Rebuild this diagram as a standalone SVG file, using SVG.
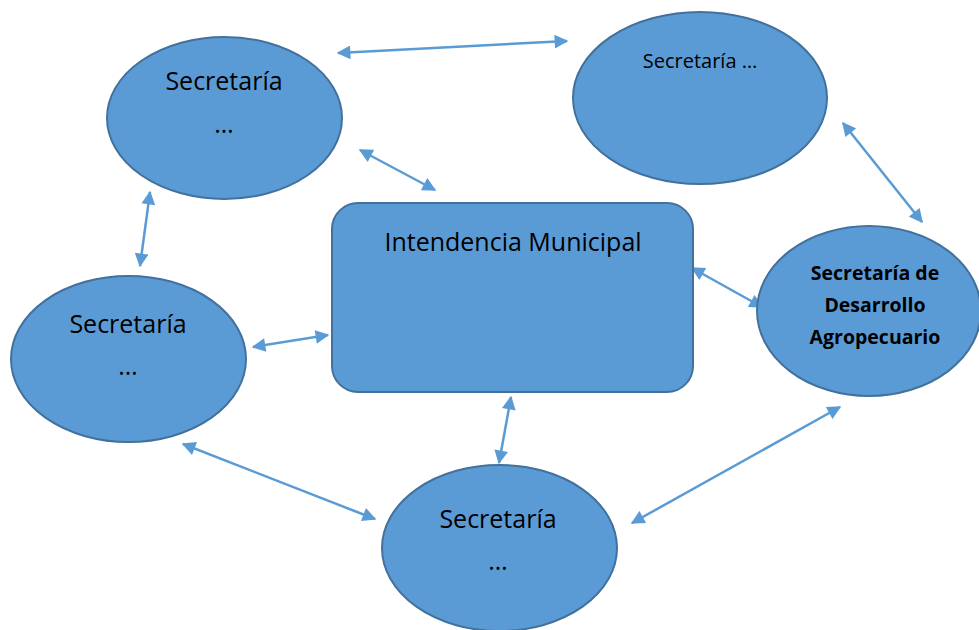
<svg xmlns="http://www.w3.org/2000/svg" width="979" height="630" viewBox="0 0 979 630">
<style>
.n{fill:#5B9BD5;stroke:#41719C;stroke-width:2}
.t{font-family:"Open Sans","Liberation Sans",sans-serif;fill:#000;text-anchor:middle}
.c{stroke:#5B9BD5;stroke-width:2.5;fill:none;marker-start:url(#ah);marker-end:url(#ah)}
</style>
<defs>
<marker id="ah" viewBox="0 0 10 10" refX="9" refY="5" markerWidth="6" markerHeight="5.5" orient="auto-start-reverse" markerUnits="strokeWidth">
<path d="M0,0 L10,5 L0,10 z" fill="#5B9BD5"/>
</marker>
</defs>
<rect width="979" height="630" fill="#fff"/>
<g id="connectors">
<line class="c" x1="338" y1="53" x2="567" y2="41"/>
<line class="c" x1="360" y1="150" x2="435" y2="190"/>
<line class="c" x1="150" y1="192" x2="140" y2="266"/>
<line class="c" x1="253" y1="347" x2="328" y2="335"/>
<line class="c" x1="692" y1="268" x2="762" y2="307"/>
<line class="c" x1="843" y1="123" x2="922" y2="222"/>
<line class="c" x1="183" y1="444" x2="375" y2="519"/>
<line class="c" x1="511" y1="397" x2="499" y2="463"/>
<line class="c" x1="632" y1="523" x2="840" y2="407"/>
</g>
<g id="sec-top-left">
<ellipse class="n" cx="224.5" cy="118" rx="117.5" ry="81"/>
<text class="t" x="224" y="90" font-size="25">Secretaría</text>
<text class="t" x="224" y="133" font-size="25">…</text>
</g>
<g id="sec-top-right">
<ellipse class="n" cx="700" cy="98" rx="127" ry="86"/>
<text class="t" x="700" y="68" font-size="20">Secretaría …</text>
</g>
<g id="intendencia">
<rect class="n" x="332" y="203" width="361" height="189" rx="26"/>
<text class="t" x="513" y="251" font-size="25">Intendencia Municipal</text>
</g>
<g id="sec-agro">
<ellipse class="n" cx="869" cy="311" rx="112" ry="85"/>
<text class="t" x="875" y="280" font-size="19.5" font-weight="bold">Secretaría de</text>
<text class="t" x="875" y="312" font-size="19.5" font-weight="bold">Desarrollo</text>
<text class="t" x="875" y="344" font-size="19.5" font-weight="bold">Agropecuario</text>
</g>
<g id="sec-left">
<ellipse class="n" cx="128.5" cy="359" rx="117.5" ry="83"/>
<text class="t" x="128" y="333" font-size="25">Secretaría</text>
<text class="t" x="128" y="375" font-size="25">…</text>
</g>
<g id="sec-bottom">
<ellipse class="n" cx="499.5" cy="548" rx="117.5" ry="83"/>
<text class="t" x="498" y="528" font-size="25">Secretaría</text>
<text class="t" x="498" y="570" font-size="25">…</text>
</g>
</svg>
